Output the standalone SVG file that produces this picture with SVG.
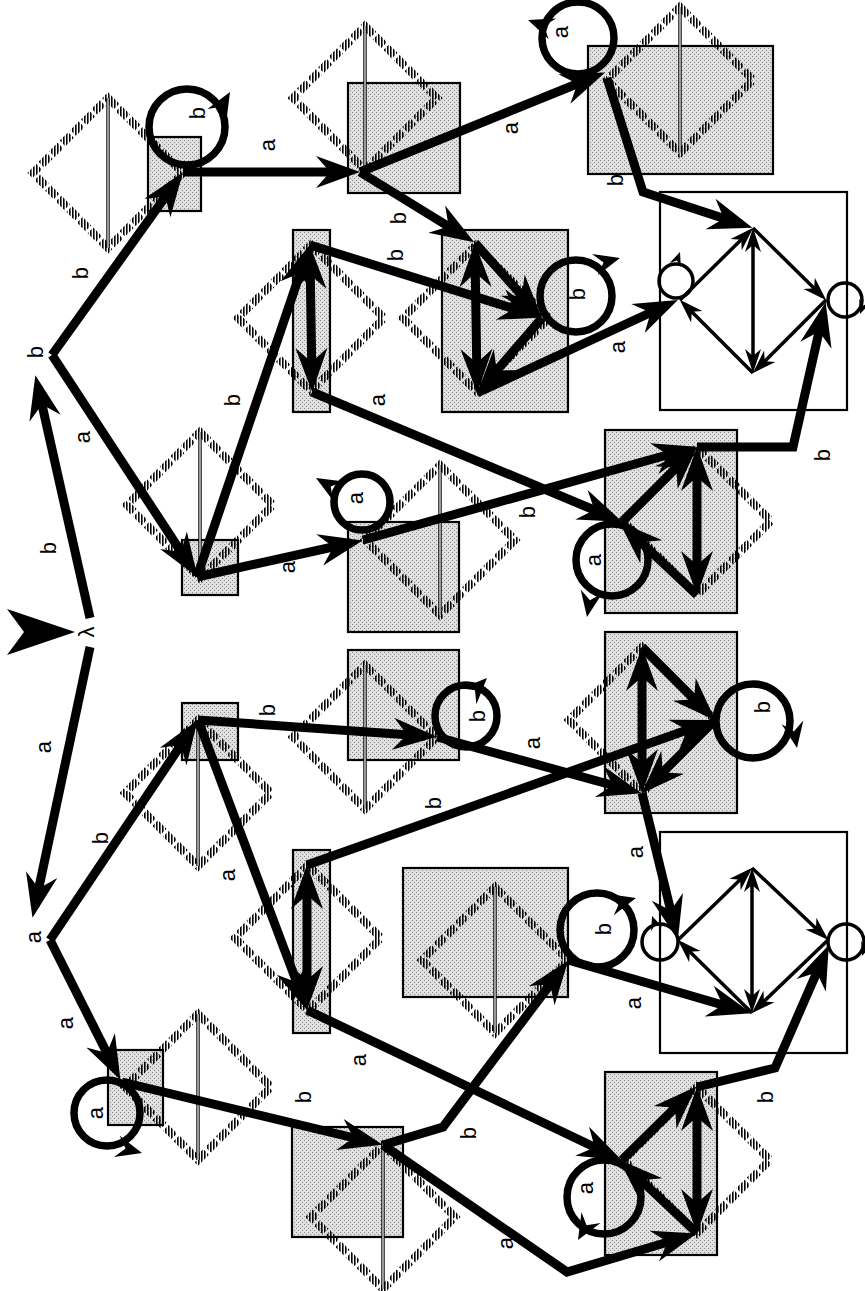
<svg xmlns="http://www.w3.org/2000/svg" width="865" height="1291" viewBox="0 0 865 1291">
<defs>
  <pattern id="stip" width="4" height="4" patternUnits="userSpaceOnUse">
    <rect width="4" height="4" fill="#e0e0e0"/>
    <rect x="0" y="0" width="1" height="1" fill="#8a8a8a"/>
    <rect x="2" y="2" width="1" height="1" fill="#8a8a8a"/>
  </pattern>
  <pattern id="hatch" width="3" height="8" patternUnits="userSpaceOnUse">
    <rect width="1.6" height="8" fill="#000"/>
  </pattern>
  <marker id="ah" markerUnits="userSpaceOnUse" markerWidth="46" markerHeight="34" refX="32" refY="17" orient="auto-start-reverse">
    <path d="M44,17 L0,1 L14,17 L0,33 Z" fill="#000"/>
  </marker>
  <marker id="sh" markerUnits="userSpaceOnUse" markerWidth="26" markerHeight="18" refX="18" refY="9" orient="auto-start-reverse">
    <path d="M24,9 L0,1 L7,9 L0,17 Z" fill="#000"/>
  </marker>
  <path id="lh" d="M0,0 L-26,-11 L-17,0 L-26,11 Z" fill="#000"/>
  <path id="slh" d="M0,0 L-14,-6 L-9,0 L-14,6 Z" fill="#000"/>
</defs>
<style>
  .box{fill:url(#stip);stroke:#000;stroke-width:2.2}
  .fin{fill:#fff;stroke:#000;stroke-width:2.2}
  .dia{fill:none;stroke:url(#hatch);stroke-width:8;stroke-dasharray:12 3}
  .ax{stroke:#000;stroke-width:3.4}
  .axw{stroke:#fff;stroke-width:1.2}
  .loop{fill:none;stroke:#000;stroke-width:7.5}
  .sloop{fill:none;stroke:#000;stroke-width:3.5}
  .e{fill:none;stroke:#000;stroke-width:9;stroke-linejoin:miter;marker-end:url(#ah)}
  .d{marker-start:url(#ah)}
  .t{fill:none;stroke:#000;stroke-width:3.5;marker-end:url(#sh)}
  .td{marker-start:url(#sh)}
  .lb{font-family:"Liberation Sans",Arial,sans-serif;font-size:22px;fill:#000;text-anchor:middle;dominant-baseline:central}
</style>
<rect width="865" height="1291" fill="#fff"/>

<!-- start marker and root -->
<g id="start">
  <polygon points="75,632 7,609 24,632 7,655" fill="#000"/>
  <text class="lb" x="86" y="632" transform="rotate(-90 86 632)">λ</text>
</g>
<g id="node-b"><text class="lb" x="35" y="352" transform="rotate(-90 35 352)">b</text></g>
<g id="node-a"><text class="lb" x="33" y="937" transform="rotate(-90 33 937)">a</text></g>

<!-- b branch -->
<g id="nb1">
  <rect class="box" x="148" y="137" width="53" height="74"/>
  <polygon class="dia" points="108,98 183,173 108,248 33,173"/>
  <line class="ax" x1="108" y1="98" x2="108" y2="248"/><line class="axw" x1="108" y1="98" x2="108" y2="248"/>
  <circle class="loop" cx="187" cy="127" r="38"/>
  <use href="#lh" transform="translate(230,92) rotate(-60)"/>
</g>
<g id="nb2">
  <rect class="box" x="348" y="83" width="112" height="110"/>
  <polygon class="dia" points="365,26 437,98 365,170 293,98"/>
  <line class="ax" x1="365" y1="26" x2="365" y2="170"/><line class="axw" x1="365" y1="26" x2="365" y2="170"/>
</g>
<g id="nb3">
  <rect class="box" x="588" y="46" width="185" height="128"/>
  <polygon class="dia" points="680,7 753,80 680,153 607,80"/>
  <line class="ax" x1="680" y1="7" x2="680" y2="153"/><line class="axw" x1="680" y1="7" x2="680" y2="153"/>
  <circle class="loop" cx="578" cy="38" r="36"/>
  <use href="#lh" transform="translate(528,20) rotate(200)"/>
</g>
<g id="nb5">
  <rect class="box" x="182" y="540" width="56" height="55"/>
  <polygon class="dia" points="200,432 273,505 200,578 127,505"/>
  <line class="ax" x1="200" y1="432" x2="200" y2="578"/><line class="axw" x1="200" y1="432" x2="200" y2="578"/>
</g>
<g id="nb6">
  <rect class="box" x="293" y="230" width="37" height="182"/>
  <polygon class="dia" points="311,245 384,318 311,391 238,318"/>
</g>
<g id="nb4">
  <rect class="box" x="442" y="230" width="126" height="182"/>
  <polygon class="dia" points="476,245 549,318 476,391 403,318"/>
  <circle class="loop" cx="576" cy="296" r="36"/>
  <use href="#lh" transform="translate(620,258) rotate(-15)"/>
</g>
<g id="nb7">
  <rect class="box" x="348" y="522" width="111" height="110"/>
  <polygon class="dia" points="440,465 515,540 440,615 365,540"/>
  <line class="ax" x1="440" y1="465" x2="440" y2="615"/><line class="axw" x1="440" y1="465" x2="440" y2="615"/>
  <circle class="loop" cx="362" cy="502" r="28"/>
  <use href="#lh" transform="translate(316,478) rotate(-150)"/>
</g>
<g id="nb8">
  <rect class="box" x="605" y="430" width="132" height="183"/>
  <polygon class="dia" points="697,447 771,521 697,595 623,521"/>
  <circle class="loop" cx="612" cy="560" r="36"/>
  <use href="#lh" transform="translate(587,617) rotate(100)"/>
</g>
<g id="nf1">
  <rect class="fin" x="660" y="192" width="187" height="218"/>
  <circle class="sloop" cx="676" cy="281" r="17"/>
  <circle class="sloop" cx="845" cy="300" r="17"/>
  <use href="#slh" transform="translate(680,252) rotate(-70)"/>
  <use href="#slh" transform="translate(860,314) rotate(110)"/>
</g>

<!-- a branch -->
<g id="na1">
  <rect class="box" x="182" y="703" width="56" height="57"/>
  <polygon class="dia" points="198,720 271,793 198,866 125,793"/>
  <line class="ax" x1="198" y1="720" x2="198" y2="866"/><line class="axw" x1="198" y1="720" x2="198" y2="866"/>
</g>
<g id="na2">
  <rect class="box" x="108" y="1050" width="55" height="75"/>
  <polygon class="dia" points="198,1014 271,1087 198,1160 125,1087"/>
  <line class="ax" x1="198" y1="1014" x2="198" y2="1160"/><line class="axw" x1="198" y1="1014" x2="198" y2="1160"/>
  <circle class="loop" cx="107" cy="1113" r="33"/>
  <use href="#lh" transform="translate(142,1153) rotate(15)"/>
</g>
<g id="na3">
  <rect class="box" x="348" y="650" width="111" height="110"/>
  <polygon class="dia" points="365,665 437,737 365,809 293,737"/>
  <line class="ax" x1="365" y1="665" x2="365" y2="809"/><line class="axw" x1="365" y1="665" x2="365" y2="809"/>
  <circle class="loop" cx="466" cy="716" r="31"/>
  <use href="#lh" transform="translate(487,678) rotate(-45)"/>
</g>
<g id="na5">
  <rect class="box" x="293" y="850" width="37" height="183"/>
  <polygon class="dia" points="308,865 381,938 308,1011 235,938"/>
</g>
<g id="na6">
  <rect class="box" x="605" y="632" width="132" height="181"/>
  <polygon class="dia" points="642,647 715,720 642,793 569,720"/>
  <circle class="loop" cx="753" cy="721" r="37"/>
  <use href="#lh" transform="translate(797,748) rotate(80)"/>
</g>
<g id="na7">
  <rect class="box" x="403" y="868" width="165" height="129"/>
  <polygon class="dia" points="495,887 568,960 495,1033 422,960"/>
  <line class="ax" x1="495" y1="887" x2="495" y2="1033"/><line class="axw" x1="495" y1="887" x2="495" y2="1033"/>
  <circle class="loop" cx="597" cy="930" r="37"/>
  <use href="#lh" transform="translate(636,898) rotate(-15)"/>
</g>
<g id="na8">
  <rect class="box" x="292" y="1127" width="111" height="110"/>
  <polygon class="dia" points="383,1145 455,1217 383,1289 311,1217"/>
  <line class="ax" x1="383" y1="1145" x2="383" y2="1289"/><line class="axw" x1="383" y1="1145" x2="383" y2="1289"/>
</g>
<g id="na9">
  <rect class="box" x="605" y="1072" width="112" height="183"/>
  <polygon class="dia" points="697,1087 770,1160 697,1233 624,1160"/>
  <circle class="loop" cx="604" cy="1197" r="37"/>
  <use href="#lh" transform="translate(578,1240) rotate(120)"/>
</g>
<g id="nf2">
  <rect class="fin" x="660" y="832" width="187" height="221"/>
  <circle class="sloop" cx="660" cy="942" r="18"/>
  <circle class="sloop" cx="846" cy="942" r="18"/>
  <use href="#slh" transform="translate(652,916) rotate(-110)"/>
  <use href="#slh" transform="translate(862,956) rotate(110)"/>
</g>

<!-- transitions -->
<g id="connectors">
  <path class="e" d="M90,618 L38,387"/>
  <path class="e" d="M90,647 L35,906"/>
  <path class="e" d="M52,355 L176,182"/>
  <path class="e" d="M52,355 L191,567"/>
  <path class="e" d="M183,172 L348,172"/>
  <path class="e" d="M360,172 L594,77"/>
  <path class="e" d="M360,172 L464,236"/>
  <path class="e" d="M607,78 L643,192 L741,224"/>
  <path class="e" d="M197,577 L306,256"/>
  <path class="e" d="M197,577 L351,543"/>
  <path class="e" d="M310,245 L531,314"/>
  <path class="e" d="M312,392 L611,517"/>
  <path class="e d" d="M310,257 L312,380"/>
  <path class="e d" d="M475,255 L477,381"/>
  <path class="e" d="M475,243 L534,309"/>
  <path class="e" d="M542,318 L485,384"/>
  <path class="e" d="M477,393 L667,305"/>
  <path class="e" d="M363,540 L685,450"/>
  <path class="e" d="M622,522 L689,455"/>
  <path class="e" d="M697,595 L628,530"/>
  <path class="e d" d="M697,459 L697,583"/>
  <path class="e" d="M697,447 L793,447 L823,314"/>

  <path class="t" d="M680,300 L749,232"/>
  <path class="t" d="M753,228 L822,296"/>
  <path class="t" d="M826,300 L757,369"/>
  <path class="t" d="M753,373 L684,304"/>
  <path class="t td" d="M753,234 L753,367"/>

  <path class="e" d="M50,940 L191,730"/>
  <path class="e" d="M50,940 L115,1069"/>
  <path class="e" d="M198,720 L425,736"/>
  <path class="e" d="M198,720 L303,999"/>
  <path class="e" d="M437,737 L630,790"/>
  <path class="e" d="M307,865 L704,724"/>
  <path class="e d" d="M307,877 L307,998"/>
  <path class="e" d="M307,1010 L611,1155"/>
  <path class="e" d="M642,647 L707,712"/>
  <path class="e" d="M715,720 L650,785"/>
  <path class="e d" d="M642,659 L642,781"/>
  <path class="e" d="M642,793 L675,928"/>
  <path class="e" d="M122,1082 L371,1142"/>
  <path class="e" d="M383,1145 L443,1127 L561,970"/>
  <path class="e" d="M383,1145 L567,1272 L685,1237"/>
  <path class="e" d="M568,960 L740,1010"/>
  <path class="e" d="M622,1160 L688,1095"/>
  <path class="e" d="M697,1233 L628,1168"/>
  <path class="e d" d="M697,1099 L697,1221"/>
  <path class="e" d="M697,1087 L775,1068 L824,956"/>

  <path class="t" d="M678,940 L748,872"/>
  <path class="t" d="M752,868 L824,936"/>
  <path class="t" d="M828,940 L756,1009"/>
  <path class="t" d="M752,1013 L682,944"/>
  <path class="t td" d="M752,874 L752,1007"/>
</g>

<!-- transition labels -->
<g id="labels">
  <text class="lb" x="48" y="548" transform="rotate(-90 48 548)">b</text>
  <text class="lb" x="43" y="747" transform="rotate(-90 43 747)">a</text>
  <text class="lb" x="80" y="273" transform="rotate(-90 80 273)">b</text>
  <text class="lb" x="82" y="437" transform="rotate(-90 82 437)">a</text>
  <text class="lb" x="197" y="113" transform="rotate(-90 197 113)">b</text>
  <text class="lb" x="267" y="145" transform="rotate(-90 267 145)">a</text>
  <text class="lb" x="510" y="128" transform="rotate(-90 510 128)">a</text>
  <text class="lb" x="398" y="218" transform="rotate(-90 398 218)">b</text>
  <text class="lb" x="560" y="32" transform="rotate(-90 560 32)">a</text>
  <text class="lb" x="615" y="180" transform="rotate(-90 615 180)">b</text>
  <text class="lb" x="232" y="400" transform="rotate(-90 232 400)">b</text>
  <text class="lb" x="287" y="567" transform="rotate(-90 287 567)">a</text>
  <text class="lb" x="395" y="255" transform="rotate(-90 395 255)">b</text>
  <text class="lb" x="377" y="400" transform="rotate(-90 377 400)">a</text>
  <text class="lb" x="577" y="294" transform="rotate(-90 577 294)">b</text>
  <text class="lb" x="617" y="347" transform="rotate(-90 617 347)">a</text>
  <text class="lb" x="355" y="498" transform="rotate(-90 355 498)">a</text>
  <text class="lb" x="527" y="512" transform="rotate(-90 527 512)">b</text>
  <text class="lb" x="593" y="560" transform="rotate(-90 593 560)">a</text>
  <text class="lb" x="822" y="455" transform="rotate(-90 822 455)">b</text>

  <text class="lb" x="100" y="838" transform="rotate(-90 100 838)">b</text>
  <text class="lb" x="65" y="1023" transform="rotate(-90 65 1023)">a</text>
  <text class="lb" x="267" y="710" transform="rotate(-90 267 710)">b</text>
  <text class="lb" x="227" y="875" transform="rotate(-90 227 875)">a</text>
  <text class="lb" x="477" y="716" transform="rotate(-90 477 716)">b</text>
  <text class="lb" x="532" y="743" transform="rotate(-90 532 743)">a</text>
  <text class="lb" x="433" y="803" transform="rotate(-90 433 803)">b</text>
  <text class="lb" x="762" y="707" transform="rotate(-90 762 707)">b</text>
  <text class="lb" x="635" y="852" transform="rotate(-90 635 852)">a</text>
  <text class="lb" x="603" y="929" transform="rotate(-90 603 929)">b</text>
  <text class="lb" x="633" y="1003" transform="rotate(-90 633 1003)">a</text>
  <text class="lb" x="358" y="1060" transform="rotate(-90 358 1060)">a</text>
  <text class="lb" x="303" y="1097" transform="rotate(-90 303 1097)">b</text>
  <text class="lb" x="95" y="1113" transform="rotate(-90 95 1113)">a</text>
  <text class="lb" x="468" y="1133" transform="rotate(-90 468 1133)">b</text>
  <text class="lb" x="765" y="1097" transform="rotate(-90 765 1097)">b</text>
  <text class="lb" x="505" y="1243" transform="rotate(-90 505 1243)">a</text>
  <text class="lb" x="585" y="1188" transform="rotate(-90 585 1188)">a</text>
</g>
</svg>
